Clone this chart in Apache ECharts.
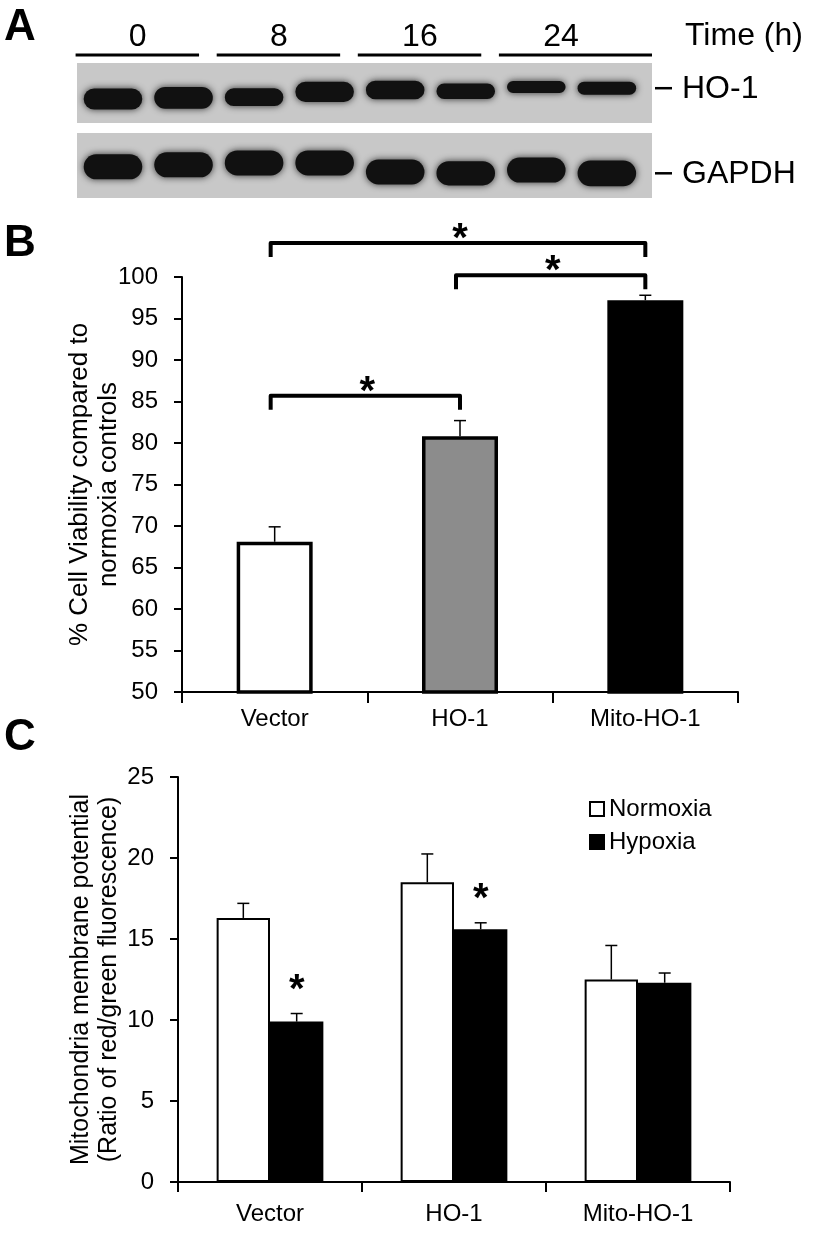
<!DOCTYPE html>
<html><head><meta charset="utf-8">
<script src="https://cdn.jsdelivr.net/npm/echarts@6/dist/echarts.min.js"></script>
<style>html,body{margin:0;padding:0;background:#fff}#c{width:817px;height:1233px}</style>
</head><body><div id="c"></div>
<script>
// ---------- Panel A: western blot ----------
const timeLabels = ['0', '8', '16', '24'];
const lanes = [1, 2, 3, 4, 5, 6, 7, 8];
const ho1Intensity = [1.0, 1.05, 0.8, 0.95, 0.85, 0.65, 0.45, 0.5];
const ho1Mobility = [0.6, 0.58, 0.57, 0.48, 0.45, 0.47, 0.4, 0.42];
const gapdhIntensity = [1.25, 1.25, 1.25, 1.25, 1.25, 1.2, 1.25, 1.3];
const gapdhMobility = [0.52, 0.49, 0.46, 0.46, 0.6, 0.62, 0.57, 0.62];
const blotLabels = ['HO-1', 'GAPDH'];

// ---------- Panel B: cell viability ----------
const groups = ['Vector', 'HO-1', 'Mito-HO-1'];
const viability = [68.1, 80.8, 97.2];
const viabilityErr = [1.8, 1.9, 0.6];
const bracketPairs = [[0, 2], [1, 2], [0, 1]];
const bracketLevels = [104.1, 100.2, 85.7];

// ---------- Panel C: membrane potential ----------
const conditions = ['Normoxia', 'Hypoxia'];
const normoxia = [16.3, 18.5, 12.5];
const normoxiaErr = [0.9, 1.75, 2.1];
const hypoxia = [9.9, 15.6, 12.3];
const hypoxiaErr = [0.5, 0.4, 0.6];
const hypoxiaSig = [true, true, false];

// ---------- styles ----------
const FONT = "'Liberation Sans', Arial, Helvetica, sans-serif";
const bFill = ['#ffffff', '#8c8c8c', '#000000'];
const LANE_MIN = 0.49, LANE_MAX = 8.64;
const C_BAR = 0.29;

const chart = echarts.init(document.getElementById('c'), null, {renderer: 'canvas'});

function bandItem(params, api) {
  const p = api.coord([api.value(0), api.value(1)]);
  const laneW = api.size([1, 0])[0];
  const w = laneW * 0.83;
  const h = 5 + 16 * api.value(2);
  return {
    type: 'rect',
    shape: {x: p[0] - w / 2, y: p[1] - h / 2, width: w, height: h, r: h / 2},
    style: {fill: '#111111', shadowBlur: 7, shadowColor: 'rgba(10,10,10,0.8)'}
  };
}

function blotLabelItem(idx, api) {
  const p = api.coord([LANE_MAX, api.value(1)]);
  return {
    type: 'group',
    children: [
      {type: 'line', shape: {x1: p[0] + 3, y1: p[1], x2: p[0] + 20, y2: p[1]}, style: {stroke: '#000', lineWidth: 2.5}},
      {type: 'text', style: {text: blotLabels[idx], x: p[0] + 30, y: p[1] + 1, fill: '#000', font: '32px ' + FONT, align: 'left', verticalAlign: 'middle'}}
    ]
  };
}

const axisBlack = {lineStyle: {color: '#000', width: 2}};

const option = {
  animation: false,
  backgroundColor: '#ffffff',
  title: [
    {text: 'A', left: 4, top: 6, padding: 0, textStyle: {fontSize: 44, fontWeight: 'bold', color: '#000', fontFamily: FONT}},
    {text: 'B', left: 4, top: 222, padding: 0, textStyle: {fontSize: 44, fontWeight: 'bold', color: '#000', fontFamily: FONT}},
    {text: 'C', left: 4, top: 716, padding: 0, textStyle: {fontSize: 44, fontWeight: 'bold', color: '#000', fontFamily: FONT}},
    {text: 'Time (h)', left: 685, top: 20, padding: 0, textStyle: {fontSize: 32, fontWeight: 'normal', color: '#000', fontFamily: FONT}}
  ],
  legend: {
    data: conditions,
    orient: 'vertical',
    left: 584, top: 792,
    itemWidth: 14, itemHeight: 14, itemGap: 9,
    icon: 'rect',
    textStyle: {fontSize: 24, color: '#000', fontFamily: FONT},
    selectedMode: false
  },
  grid: [
    {left: 77, top: 63, width: 575, height: 60, show: true, backgroundColor: '#c8c8c8', borderWidth: 0},
    {left: 77, top: 133, width: 575, height: 65, show: true, backgroundColor: '#c8c8c8', borderWidth: 0},
    {left: 182, top: 277, width: 556, height: 415},
    {left: 178, top: 777, width: 552, height: 405}
  ],
  xAxis: [
    {type: 'value', gridIndex: 0, min: LANE_MIN, max: LANE_MAX, show: false},
    {type: 'value', gridIndex: 1, min: LANE_MIN, max: LANE_MAX, show: false},
    {type: 'category', gridIndex: 2, data: groups,
      axisLine: axisBlack, axisTick: {show: true, length: 11, lineStyle: {color: '#000', width: 2}},
      axisLabel: {fontSize: 24, color: '#000', fontFamily: FONT, margin: 15}},
    {type: 'category', gridIndex: 3, data: groups,
      axisLine: axisBlack, axisTick: {show: true, length: 10, lineStyle: {color: '#000', width: 2}},
      axisLabel: {fontSize: 24, color: '#000', fontFamily: FONT, margin: 20}}
  ],
  yAxis: [
    {type: 'value', gridIndex: 0, min: 0, max: 1, inverse: true, show: false},
    {type: 'value', gridIndex: 1, min: 0, max: 1, inverse: true, show: false},
    {type: 'value', gridIndex: 2, min: 50, max: 100, interval: 5,
      axisLine: {show: true, lineStyle: {color: '#000', width: 2}},
      axisTick: {show: true, length: 8, lineStyle: {color: '#000', width: 2}},
      axisLabel: {fontSize: 24, color: '#000', fontFamily: FONT, margin: 24},
      splitLine: {show: false},
      name: '% Cell Viability compared to\nnormoxia controls',
      nameLocation: 'middle', nameRotate: 90, nameGap: 59, nameMoveOverlap: false,
      nameTextStyle: {fontSize: 26, lineHeight: 29, color: '#000', fontFamily: FONT}},
    {type: 'value', gridIndex: 3, min: 0, max: 25, interval: 5,
      axisLine: {show: true, lineStyle: {color: '#000', width: 2}},
      axisTick: {show: true, length: 8, lineStyle: {color: '#000', width: 2}},
      axisLabel: {fontSize: 24, color: '#000', fontFamily: FONT, margin: 24},
      splitLine: {show: false},
      name: 'Mitochondria membrane potential\n(Ratio of red/green fluorescence)',
      nameLocation: 'middle', nameRotate: 90, nameGap: 55, nameMoveOverlap: false,
      nameTextStyle: {fontSize: 25, lineHeight: 28, color: '#000', fontFamily: FONT}}
  ],
  series: [
    // ---- blot bands ----
    {type: 'custom', xAxisIndex: 0, yAxisIndex: 0, clip: true,
      data: lanes.map((l, i) => [l, ho1Mobility[i], ho1Intensity[i]]), renderItem: bandItem},
    {type: 'custom', xAxisIndex: 1, yAxisIndex: 1, clip: true,
      data: lanes.map((l, i) => [l, gapdhMobility[i], gapdhIntensity[i]]), renderItem: bandItem},
    // ---- time group bars + labels ----
    {type: 'custom', xAxisIndex: 0, yAxisIndex: 0, clip: false,
      data: timeLabels.map((t, i) => [2 * i + 1.35, 0]),
      renderItem: function (params, api) {
        const x = api.value(0);
        const c = api.coord([x, 0]);
        const a = api.coord([x - 0.88, 0]);
        const last = params.dataIndex === timeLabels.length - 1;
        const b = api.coord([last ? LANE_MAX : x + 0.87, 0]);
        const yTop = a[1];
        return {type: 'group', children: [
          {type: 'line', shape: {x1: a[0], y1: yTop - 8, x2: b[0], y2: yTop - 8}, style: {stroke: '#000', lineWidth: 3}},
          {type: 'text', style: {text: timeLabels[params.dataIndex], x: c[0], y: yTop - 26, fill: '#000',
            font: '32px ' + FONT, align: 'center', verticalAlign: 'middle'}}
        ]};
      }},
    // ---- blot row labels ----
    {type: 'custom', xAxisIndex: 0, yAxisIndex: 0, clip: false,
      data: [[lanes[7], ho1Mobility[7]]], renderItem: function (params, api) { return blotLabelItem(0, api); }},
    {type: 'custom', xAxisIndex: 1, yAxisIndex: 1, clip: false,
      data: [[lanes[7], gapdhMobility[7]]], renderItem: function (params, api) { return blotLabelItem(1, api); }},
    // ---- panel B bars ----
    {type: 'bar', xAxisIndex: 2, yAxisIndex: 2, barWidth: '41%',
      data: viability.map((v, i) => ({value: v, itemStyle: {color: bFill[i]}})),
      itemStyle: {borderColor: '#000', borderWidth: 3.5}},
    // ---- panel B error bars ----
    {type: 'custom', xAxisIndex: 2, yAxisIndex: 2, clip: false, z: 3,
      data: viability.map((v, i) => [i, v, viabilityErr[i]]),
      renderItem: function (params, api) {
        const base = api.coord([api.value(0), api.value(1)]);
        const top = api.coord([api.value(0), api.value(1) + api.value(2)]);
        return {type: 'group', children: [
          {type: 'line', shape: {x1: base[0], y1: base[1], x2: top[0], y2: top[1]}, style: {stroke: '#000', lineWidth: 1.5}},
          {type: 'line', shape: {x1: top[0] - 6, y1: top[1], x2: top[0] + 6, y2: top[1]}, style: {stroke: '#000', lineWidth: 1.5}}
        ]};
      }},
    // ---- panel B significance brackets ----
    {type: 'custom', xAxisIndex: 2, yAxisIndex: 2, clip: false, z: 4,
      data: bracketPairs.map((p, k) => [p[0], p[1], bracketLevels[k]]),
      renderItem: function (params, api) {
        const a = api.coord([api.value(0), api.value(2)]);
        const b = api.coord([api.value(1), api.value(2)]);
        const y = a[1];
        return {type: 'group', children: [
          {type: 'polyline', shape: {points: [[a[0] - 4, y + 14], [a[0] - 4, y], [b[0], y], [b[0], y + 14]]},
            style: {stroke: '#000', lineWidth: 4, lineJoin: 'round', fill: null}},
          {type: 'text', style: {text: '*', x: (a[0] + b[0]) / 2, y: y - 3, fill: '#000',
            font: 'bold 40px ' + FONT, align: 'center', verticalAlign: 'middle'}}
        ]};
      }},
    // ---- panel C bars ----
    {type: 'bar', name: 'Normoxia', xAxisIndex: 3, yAxisIndex: 3, barWidth: (C_BAR * 100) + '%', barGap: '0%',
      data: normoxia, itemStyle: {color: '#ffffff', borderColor: '#000', borderWidth: 2}},
    {type: 'bar', name: 'Hypoxia', xAxisIndex: 3, yAxisIndex: 3, barWidth: (C_BAR * 100) + '%', barGap: '0%',
      data: hypoxia, itemStyle: {color: '#000000', borderColor: '#000', borderWidth: 2}},
    // ---- panel C error bars + stars ----
    {type: 'custom', xAxisIndex: 3, yAxisIndex: 3, clip: false, z: 3,
      data: normoxia.map((v, i) => [i, v, normoxiaErr[i], 0, 0])
        .concat(hypoxia.map((v, i) => [i, v, hypoxiaErr[i], 1, hypoxiaSig[i] ? 1 : 0])),
      renderItem: function (params, api) {
        const bw = api.size([1, 0])[0] * C_BAR;
        const off = (api.value(3) === 0 ? -0.5 : 0.5) * bw;
        const base = api.coord([api.value(0), api.value(1)]);
        const top = api.coord([api.value(0), api.value(1) + api.value(2)]);
        const x = base[0] + off;
        const kids = [
          {type: 'line', shape: {x1: x, y1: base[1], x2: x, y2: top[1]}, style: {stroke: '#000', lineWidth: 1.5}},
          {type: 'line', shape: {x1: x - 6, y1: top[1], x2: x + 6, y2: top[1]}, style: {stroke: '#000', lineWidth: 1.5}}
        ];
        if (api.value(4) === 1) {
          kids.push({type: 'text', style: {text: '*', x: x, y: top[1] - 23, fill: '#000',
            font: 'bold 40px ' + FONT, align: 'center', verticalAlign: 'middle'}});
        }
        return {type: 'group', children: kids};
      }}
  ]
};
chart.setOption(option);
</script></body></html>
